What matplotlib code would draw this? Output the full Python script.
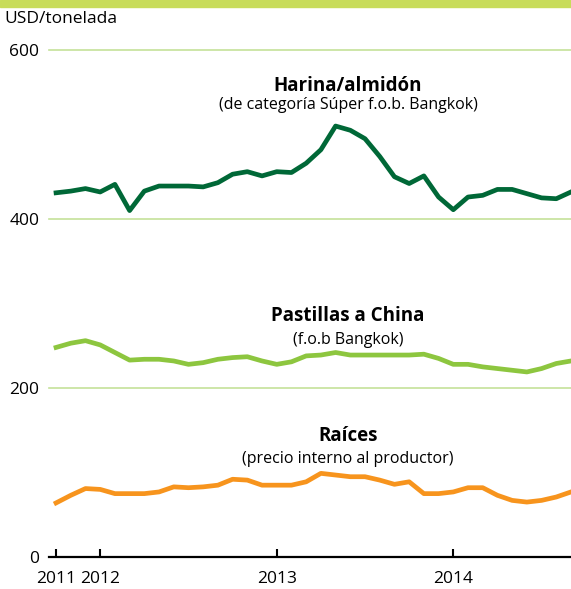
import matplotlib
matplotlib.use('Agg')
import matplotlib.pyplot as plt
from matplotlib.patches import Rectangle

# meses desde oct. 2011 hasta sep. 2014
harina = [431, 433, 436, 432, 441, 410, 433, 439, 439, 439, 438, 443,
          453, 456, 451, 456, 455, 466, 482, 510, 505, 495, 474, 450,
          442, 451, 426, 411, 426, 428, 435, 435, 430, 425, 424, 432]
pastillas = [248, 253, 256, 251, 242, 233, 234, 234, 232, 228, 230, 234,
             236, 237, 232, 228, 231, 238, 239, 242, 239, 239, 239, 239,
             239, 240, 235, 228, 228, 225, 223, 221, 219, 223, 229, 232]
raices = [64, 73, 81, 80, 75, 75, 75, 77, 83, 82, 83, 85,
          92, 91, 85, 85, 85, 89, 99, 97, 95, 95, 91, 86,
          89, 75, 75, 77, 82, 82, 73, 67, 65, 67, 71, 77]
meses = list(range(len(harina)))

year_ticks = [0, 3, 15, 27]
year_labels = ['2011', '2012', '2013', '2014']
yticks = [0, 200, 400, 600]

plt.rcParams['font.family'] = ['Open Sans', 'DejaVu Sans']

fig = plt.figure(figsize=(5.71, 5.89), dpi=100)
ax = fig.add_axes([49 / 571, 1 - 557 / 589, 1 - 49 / 571, 507 / 589])

for y in yticks[1:]:
    ax.axhline(y, color='#c5e29a', lw=1.2, clip_on=False, zorder=1)

ax.plot(meses, harina, color='#006837', lw=3.4, zorder=3)
ax.plot(meses, pastillas, color='#8dc63f', lw=3.4, zorder=3)
ax.plot(meses, raices, color='#f7941d', lw=3.4, zorder=3)

ax.set_xlim(-0.48, 35)
ax.set_ylim(0, 600)
ax.set_xticks(year_ticks)
ax.set_xticklabels(year_labels)
ax.set_yticks(yticks)
ax.set_yticklabels([str(v) for v in yticks])
ax.tick_params(axis='x', direction='in', length=6, width=1.5, color='black',
               labelsize=12.5, pad=10)
ax.tick_params(axis='y', length=0, labelsize=12.5, pad=7)

for s in ['top', 'right', 'left']:
    ax.spines[s].set_visible(False)
ax.spines['bottom'].set_linewidth(1.6)
ax.spines['bottom'].set_zorder(4)

ax.text(19.85, 557, 'Harina/almidón', ha='center', va='center',
        fontsize=13.5, fontweight='bold')
ax.text(19.85, 535, '(de categoría Súper f.o.b. Bangkok)', ha='center',
        va='center', fontsize=11.5)
ax.text(19.85, 285, 'Pastillas a China', ha='center', va='center',
        fontsize=13.5, fontweight='bold')
ax.text(19.85, 257, '(f.o.b Bangkok)', ha='center', va='center', fontsize=11.5)
ax.text(19.85, 143, 'Raíces', ha='center', va='center',
        fontsize=13.5, fontweight='bold')
ax.text(19.85, 116, '(precio interno al productor)', ha='center',
        va='center', fontsize=11.5)

fig.patches.append(Rectangle((0, 1 - 7 / 589), 1, 7 / 589,
                             transform=fig.transFigure, color='#c8dc5a'))
fig.text(4 / 571, 1 - 19 / 589, 'USD/tonelada', ha='left', va='center',
         fontsize=12.5)

fig.savefig('out.png', dpi=100)
